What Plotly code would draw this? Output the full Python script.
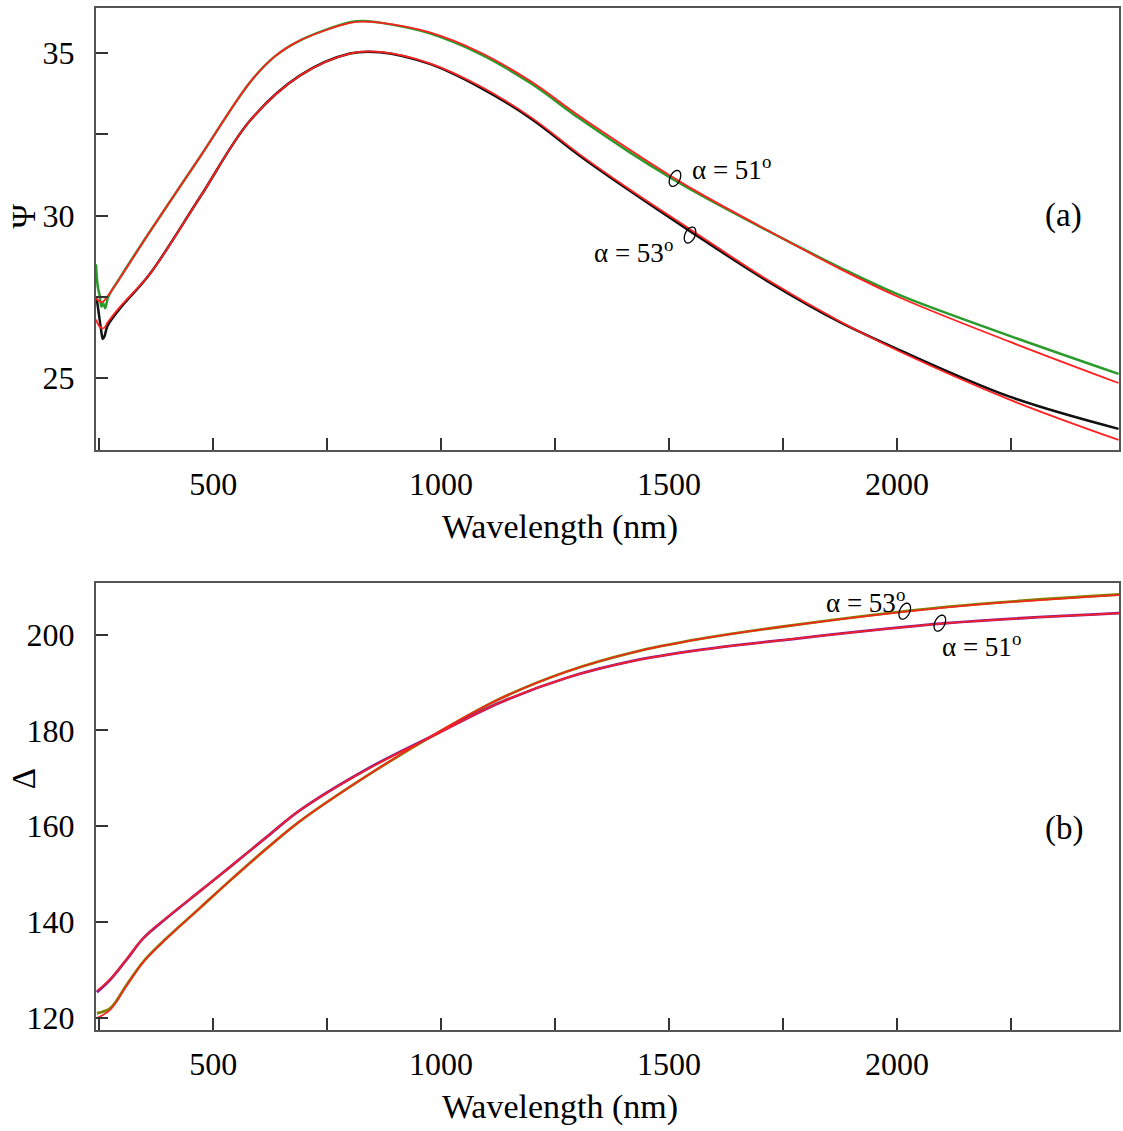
import numpy as np
import plotly.graph_objects as go
from plotly.subplots import make_subplots

# ---- (a) Psi vs wavelength ----
lam_a51 = [243, 247, 251, 255, 259, 263, 270, 296, 361, 471, 581, 636, 690, 800, 830, 866, 975,
           1085, 1195, 1304, 1414, 1502, 1568, 1714, 1875, 2006, 2247, 2486]
psi51_meas = [28.5, 27.8, 27.55, 27.2, 27.3, 27.15, 27.5, 28.1, 29.5, 31.8, 34.1, 34.9, 35.38, 35.94, 35.98,
              35.93, 35.6, 34.97, 34.08, 32.98, 31.94, 31.17, 30.64, 29.55, 28.4, 27.55, 26.3, 25.13]
psi51_fit = [27.45, 27.4, 27.36, 27.34, 27.36, 27.42, 27.55, 28.08, 29.5, 31.8, 34.1, 34.9, 35.38, 35.92, 35.96,
             35.93, 35.63, 35.02, 34.14, 33.05, 32.02, 31.23, 30.68, 29.56, 28.36, 27.48, 26.12, 24.85]

lam_a53 = [243, 246, 250, 254, 258, 262, 268, 296, 361, 471, 581, 690, 800, 866, 975,
           1085, 1195, 1304, 1414, 1546, 1714, 1875, 2006, 2247, 2486]
psi53_meas = [27.5, 27.3, 26.9, 26.5, 26.2, 26.3, 26.6, 27.15, 28.2, 30.56, 32.92, 34.3, 34.98, 35.02, 34.66,
              33.94, 33.0, 31.84, 30.76, 29.52, 28.0, 26.72, 25.86, 24.43, 23.44]
psi53_fit = [26.8, 26.7, 26.6, 26.55, 26.53, 26.56, 26.7, 27.2, 28.2, 30.56, 32.92, 34.3, 34.98, 35.03, 34.68,
             33.98, 33.04, 31.88, 30.8, 29.58, 28.04, 26.74, 25.82, 24.34, 23.1]

# ---- (b) Delta vs wavelength ----
lam_b = [245, 274, 310, 347, 398, 471, 544, 617, 690, 837, 982, 1129, 1276, 1421, 1568, 1743, 2109, 2489]
delta51_meas = [125.3, 127.9, 132.1, 136.6, 140.8, 146.4, 152.0, 157.7, 163.3, 171.9, 178.9, 185.8, 191.0,
                194.5, 196.8, 198.8, 202.4, 204.5]
delta51_fit = [125.6, 128.0, 132.2, 136.6, 140.9, 146.4, 152.0, 157.7, 163.3, 171.8, 178.8, 185.8, 191.0,
               194.5, 196.8, 198.8, 202.4, 204.5]
delta53_meas = [120.9, 121.9, 126.8, 131.7, 136.6, 142.9, 149.2, 155.3, 161.0, 170.5, 178.9, 186.6, 192.3,
                196.3, 199.1, 201.6, 205.8, 208.4]
delta53_fit = [119.9, 121.6, 126.6, 131.6, 136.5, 142.9, 149.2, 155.3, 161.0, 170.5, 179.0, 186.6, 192.3,
               196.3, 199.1, 201.6, 205.7, 208.3]

x_ticks = [250, 500, 750, 1000, 1250, 1500, 1750, 2000, 2250]
x_labels = ['', '500', '', '1000', '', '1500', '', '2000', '']
psi_ticks = [25, 27.5, 30, 32.5, 35]
psi_labels = ['25', '', '30', '', '35']
delta_ticks = [120, 140, 160, 180, 200]

x_range = [243, 2487]
psi_range = [22.79, 36.38]
delta_range = [117.4, 210.8]

FONT = 'Liberation Serif, Times New Roman, serif'
GREEN = '#2a9a2a'
RED = '#ff2020'
OLIVE = '#808000'
PURPLE = '#8a1a8a'

fig = make_subplots(rows=2, cols=1, vertical_spacing=0.13)

# measured data
fig.add_trace(go.Scatter(x=lam_a51, y=psi51_meas, mode='lines', line=dict(color=GREEN, width=2.5, shape='spline')), 1, 1)
fig.add_trace(go.Scatter(x=lam_a53, y=psi53_meas, mode='lines', line=dict(color='#111111', width=2.5, shape='spline')), 1, 1)
# fits
fig.add_trace(go.Scatter(x=lam_a51, y=psi51_fit, mode='lines', line=dict(color=RED, width=1.8, shape='spline')), 1, 1)
fig.add_trace(go.Scatter(x=lam_a53, y=psi53_fit, mode='lines', line=dict(color=RED, width=1.8, shape='spline')), 1, 1)

fig.add_trace(go.Scatter(x=lam_b, y=delta53_meas, mode='lines', line=dict(color=OLIVE, width=2.8, shape='spline')), 2, 1)
fig.add_trace(go.Scatter(x=lam_b, y=delta51_meas, mode='lines', line=dict(color=PURPLE, width=2.8, shape='spline')), 2, 1)
fig.add_trace(go.Scatter(x=lam_b, y=delta53_fit, mode='lines', line=dict(color=RED, width=1.5, shape='spline')), 2, 1)
fig.add_trace(go.Scatter(x=lam_b, y=delta51_fit, mode='lines', line=dict(color=RED, width=1.5, shape='spline')), 2, 1)

axis_style = dict(showline=True, linecolor='#555555', linewidth=2, mirror=True, ticks='inside',
                  ticklen=12, tickwidth=2, tickcolor='#333333', showgrid=False, zeroline=False,
                  automargin=False, tickfont=dict(family=FONT, size=32, color='black'))

for r in (1, 2):
    fig.update_xaxes(range=x_range, tickvals=x_ticks, ticktext=x_labels, ticklabelstandoff=5,
                     row=r, col=1, **axis_style)
fig.update_yaxes(range=psi_range, tickvals=psi_ticks, ticktext=psi_labels, ticklabelstandoff=13, row=1, col=1, **axis_style)
fig.update_yaxes(range=delta_range, tickvals=delta_ticks, ticklabelstandoff=13, row=2, col=1, **axis_style)

fig.update_layout(
    width=1123, height=1131, margin=dict(l=96, r=4, t=8, b=101, autoexpand=False),
    plot_bgcolor='white', paper_bgcolor='white', showlegend=False,
    xaxis=dict(domain=[0, 1]), yaxis=dict(domain=[0.5675, 1.0]),
    yaxis2=dict(domain=[0, 0.4374]),
)

txt = dict(family=FONT, size=27, color='black')
big = dict(family=FONT, size=33, color='black')
ttl = dict(family=FONT, size=34, color='black')
annotations = [
    # axis titles (x titles sit a little left of the plot centre in the original)
    dict(x=0.4536, xref='paper', y=0, yref='y domain', yshift=-77, text='Wavelength (nm)', showarrow=False,
         font=ttl, xanchor='center', yanchor='middle'),
    dict(x=0.4536, xref='paper', y=0, yref='y2 domain', yshift=-77, text='Wavelength (nm)', showarrow=False,
         font=ttl, xanchor='center', yanchor='middle'),
    dict(x=-0.0704, xref='paper', y=30, yref='y', text='Ψ', textangle=-90, showarrow=False, font=big,
         xanchor='center', yanchor='middle'),
    dict(x=-0.0704, xref='paper', y=170, yref='y2', text='Δ', textangle=-90, showarrow=False, font=big,
         xanchor='center', yanchor='middle'),
    dict(x=2366, xref='x', y=30, yref='y', text='(a)', showarrow=False, font=big),
    dict(x=2366, xref='x2', y=159.5, yref='y2', text='(b)', showarrow=False, font=big),
    dict(x=1636, xref='x', y=31.45, yref='y', text='α = 51<sup>o</sup>', showarrow=False, font=txt),
    dict(x=1423, xref='x', y=28.9, yref='y', text='α = 53<sup>o</sup>', showarrow=False, font=txt),
    dict(x=1932, xref='x2', y=207.0, yref='y2', text='α = 53<sup>o</sup>', showarrow=False, font=txt),
    dict(x=2186, xref='x2', y=197.8, yref='y2', text='α = 51<sup>o</sup>', showarrow=False, font=txt),
]
fig.update_layout(annotations=annotations)

# small tilted ellipses marking each pair of curves
px_per_nm = 1023 / (x_range[1] - x_range[0])
px_per_psi = 442 / (psi_range[1] - psi_range[0])
px_per_delta = 447 / (delta_range[1] - delta_range[0])


def ellipse_path(x0, y0, yscale, a=5.0, b=8.5, tilt=25):
    t = np.linspace(0, 2 * np.pi, 40)
    th = np.radians(tilt)
    dx = a * np.cos(t) * np.cos(th) + b * np.sin(t) * np.sin(th)
    dy = -a * np.cos(t) * np.sin(th) + b * np.sin(t) * np.cos(th)
    xs = x0 + dx / px_per_nm
    ys = y0 + dy / yscale
    return 'M ' + ' L '.join(f'{x:.3f},{y:.4f}' for x, y in zip(xs, ys)) + ' Z'


ell = [(1513, 31.14, 'x', 'y', px_per_psi), (1546, 29.4, 'x', 'y', px_per_psi),
       (2017, 204.9, 'x2', 'y2', px_per_delta), (2094, 202.4, 'x2', 'y2', px_per_delta)]
for ex, ey, xr, yr, sc in ell:
    fig.add_shape(type='path', path=ellipse_path(ex, ey, sc), xref=xr, yref=yr,
                  line=dict(color='black', width=1.3))

# the page body has a default 8px margin; drop it so the figure sits at the window corner
fig.write_html("out.html", config={'displayModeBar': False},
               post_script="document.body.style.margin='0';document.body.style.overflow='hidden';")
